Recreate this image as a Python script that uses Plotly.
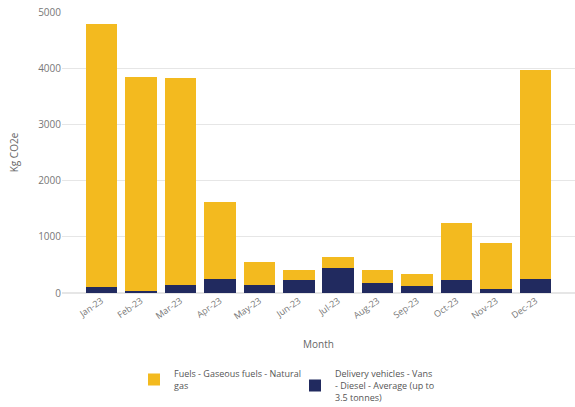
import plotly.graph_objects as go

months = ["Jan-23", "Feb-23", "Mar-23", "Apr-23", "May-23", "Jun-23",
          "Jul-23", "Aug-23", "Sep-23", "Oct-23", "Nov-23", "Dec-23"]
vans_diesel = [100, 35, 137, 255, 137, 226, 439, 178, 119, 226, 66, 255]
natural_gas = [4680, 3815, 3693, 1370, 420, 183, 207, 237, 225, 1025, 824, 3720]

gas_name = "Fuels - Gaseous fuels - Natural<br>gas"
van_name = "Delivery vehicles - Vans<br>- Diesel - Average (up to<br>3.5 tonnes)"

fig = go.Figure()
fig.add_trace(go.Bar(x=months, y=vans_diesel, name=van_name,
                     marker=dict(color="#212A5F", line=dict(width=0)), legendrank=2))
fig.add_trace(go.Bar(x=months, y=natural_gas, name=gas_name,
                     marker=dict(color="#F3BA1F", line=dict(width=0)), legendrank=1))

fig.update_layout(
    barmode="stack",
    bargap=0.2,
    width=575, height=407,
    margin=dict(l=62, r=0, t=12, b=114, autoexpand=False),
    paper_bgcolor="white", plot_bgcolor="white",
    font=dict(family="Open Sans, Segoe UI, sans-serif", size=10, color="#666666"),
    xaxis=dict(
        type="category", range=[-1, 12], tickangle=-35, automargin=False,
        showgrid=False, showline=False, ticks="",
        tickfont=dict(size=9, color="#777777"),
        title=dict(text="Month", font=dict(size=10, color="#666666"), standoff=19),
    ),
    yaxis=dict(
        range=[0, 5000], dtick=1000, showgrid=True, gridcolor="#E6E6E6",
        zeroline=True, zerolinecolor="#E6E6E6", showline=False, ticks="",
        automargin=False,
        tickfont=dict(size=10, color="#777777"),
        title=dict(text="Kg CO2e", font=dict(size=10, color="#666666"), standoff=17),
    ),
    legend=dict(
        orientation="h", xref="container", x=134 / 575, xanchor="left",
        yref="container", y=0.112, yanchor="top",
        font=dict(size=9, color="#555555"), valign="middle",
        traceorder="normal", itemwidth=30, entrywidth=116,
    ),
)

fig.write_html("out.html")
